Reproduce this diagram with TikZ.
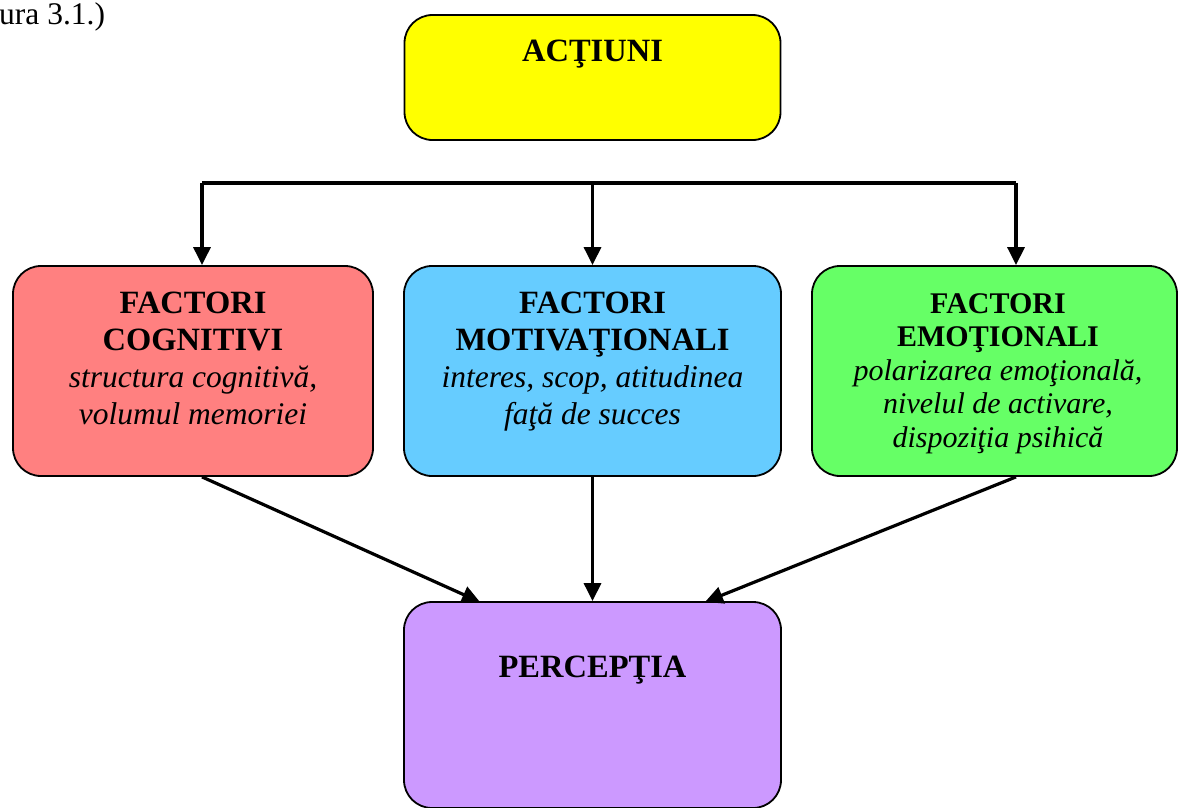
\documentclass[tikz,border=0pt]{standalone}
\usepackage{fontspec}
\setmainfont{Liberation Serif}
\usetikzlibrary{arrows.meta,positioning}

\definecolor{galben}{HTML}{FFFF00}
\definecolor{rosu}{HTML}{FF8080}
\definecolor{albastru}{HTML}{66CCFF}
\definecolor{verde}{HTML}{66FF66}
\definecolor{mov}{HTML}{CC99FF}

% titlu aldin putin mai mare
\newcommand{\titlub}[1]{\textbf{\fontsize{32.5}{37}\selectfont #1}}

\begin{document}
\begin{tikzpicture}[x=1pt, y=-1pt,
  cutie/.style={draw, line width=1.8pt, rounded corners=28pt, inner sep=0pt},
  titlu/.style={font=\fontsize{31.5}{37}\selectfont, align=center, inner sep=0pt, anchor=north},
  sageata/.style={-{Triangle[length=18pt,width=17pt]}, line width=3.2pt}]

\useasboundingbox (0,0) rectangle (1178,807);

% Legenda figurii (taiata)
\node[anchor=base west, inner sep=0pt, font=\fontsize{31.5}{37}\selectfont] (fig) at (-1,24) {ura 3.1.)};

% Cutiile
\node[cutie, fill=galben, minimum width=376pt, minimum height=125pt] (actiuni) at (592.5,77.5) {};
\node[cutie, fill=rosu, minimum width=360pt, minimum height=210pt] (cog) at (193,371) {};
\node[cutie, fill=albastru, minimum width=377pt, minimum height=210pt] (mot) at (592.5,371) {};
\node[cutie, fill=verde, minimum width=365pt, minimum height=210pt] (emo) at (994.5,371) {};
\node[cutie, fill=mov, minimum width=377pt, minimum height=206pt] (perc) at (592.5,705) {};

% Textele
\node[titlu, below=26pt of actiuni.north] (actiunitxt) {\titlub{ACŢIUNI}};
\node[titlu, below=27pt of cog.north] (cogtxt) {%
  \titlub{FACTORI}\\\titlub{COGNITIVI}\\
  \textit{structura cognitivă,}\\\textit{volumul memoriei}};
\node[titlu, below=27pt of mot.north] (mottxt) {%
  \titlub{FACTORI}\\\titlub{MOTIVAŢIONALI}\\
  \textit{interes, scop, atitudinea}\\\textit{faţă de succes}};
\node[titlu, font=\fontsize{30}{33.5}\selectfont, below=28pt of emo.north, xshift=3.5pt] (emotxt) {%
  \textbf{FACTORI}\\\textbf{EMOŢIONALI}\\
  \textit{polarizarea emoţională,}\\\textit{nivelul de activare,}\\
  \textit{dispoziţia psihică}};
\node[titlu, below=55pt of perc.north] (perctxt) {\titlub{PERCEPŢIA}};

% Bara orizontala si sagetile in jos
\coordinate (barst) at (202,183);
\coordinate (barmij) at (592.5,183);
\coordinate (bardr) at (1016,183);
\draw[line width=3.2pt] (barst) -- (bardr);
\foreach \c/\b in {barst/cog, barmij/mot, bardr/emo} {
  \draw[sageata] (\c) -- (\c |- \b.north);
}

% Sagetile spre perceptie
\coordinate (pst) at (480,602);
\coordinate (pdr) at (705,602);
\draw[sageata] (barst |- cog.south) -- (pst);
\draw[sageata] (mot.south) -- (perc.north);
\draw[sageata] (bardr |- emo.south) -- (pdr);

\end{tikzpicture}
\end{document}
